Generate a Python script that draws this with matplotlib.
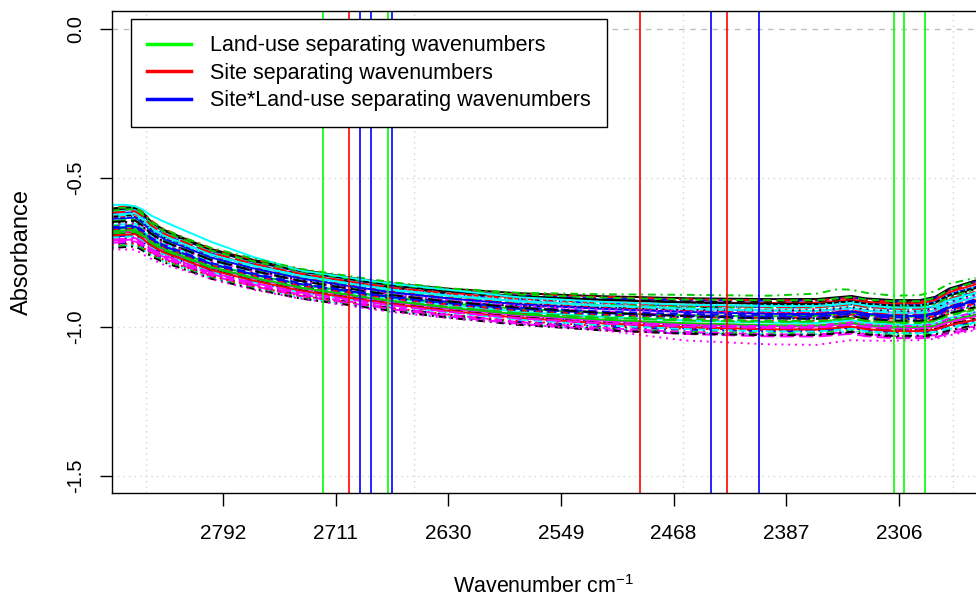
import matplotlib
matplotlib.use("Agg")
import numpy as np
import matplotlib.pyplot as plt
from matplotlib.lines import Line2D

plt.rcParams['font.family'] = ['Liberation Sans', 'DejaVu Sans']
plt.rcParams['mathtext.default'] = 'regular'

wavenumbers = [2872, 2862, 2855, 2850, 2844, 2835, 2820, 2800, 2770, 2736,
               2700, 2670, 2630, 2580, 2521, 2460, 2400, 2365, 2350, 2340,
               2330, 2310, 2291, 2280, 2270, 2251]
# middle of the bundle of spectra and its half width
band_centre = [-0.665, -0.662, -0.66, -0.675, -0.70, -0.725, -0.752, -0.787,
               -0.822, -0.855, -0.88, -0.90, -0.92, -0.94, -0.955, -0.965,
               -0.97, -0.97, -0.964, -0.96, -0.968, -0.974, -0.974,
               -0.967, -0.947, -0.925]
band_half = [0.07, 0.07, 0.07, 0.068, 0.062, 0.058, 0.055, 0.053, 0.052,
             0.052, 0.05, 0.05, 0.053, 0.058, 0.063, 0.066, 0.068, 0.068,
             0.068, 0.068, 0.068, 0.068, 0.068, 0.072, 0.08, 0.085]

# where each sample sits in the bundle (-1 bottom, 1 top), high and low wavenumber end
pos_left = [0.9, -0.3, 0.4, -0.8, 0.1, 0.6, -0.5, 0.2, -0.9, 0.7, 0.0, -0.2,
            0.5, -0.6, 0.3, 0.8, -0.4, 0.1, -0.7, 0.45, -0.1, 0.65, -0.95,
            0.25, -0.35, 0.55, 0.05, -0.55, 0.35, -0.75, 0.85, -0.15, 0.15,
            -0.45, 0.75, -0.25, 0.5, -0.85, 0.3, -0.05, 0.6, -0.65, 0.2, 0.95,
            -0.3, 0.4, -0.5, 0.1, -1.0, 0.7, -0.2, 0.0, 0.45, -0.7, 0.25,
            -0.4, 0.8, -0.1, 0.55, -0.6]
pos_right = [0.95, -0.1, 0.2, -0.6, 0.4, 0.3, 0.95, 0.5, -0.7, 0.9, -0.3, 0.1,
             0.6, -0.4, -0.1, 0.7, -0.6, 0.35, -0.9, 0.2, 0.15, 0.5, -0.75,
             0.0, -0.55, 0.8, -0.2, -0.35, 0.55, -0.95, 0.65, 0.05, -0.05,
             -0.65, 0.45, -0.45, 0.9, -0.5, 0.6, 0.1, 0.3, -0.85, 0.4, 0.85,
             -0.15, 0.15, -0.7, 0.35, -0.8, 0.5, -0.4, 0.2, 0.7, -0.3, -0.1,
             -0.6, 0.9, 0.0, 0.3, -0.45]

# a few samples that leave the bundle
cyan_sample = [-0.59, -0.59, -0.595, -0.605, -0.625, -0.645, -0.675, -0.715,
               -0.765, -0.81, -0.835, -0.855, -0.875, -0.9, -0.915, -0.925,
               -0.93, -0.93, -0.925, -0.92, -0.928, -0.935, -0.935, -0.93,
               -0.91, -0.885]
magenta_sample = [-0.74, -0.74, -0.74, -0.755, -0.77, -0.79, -0.81, -0.84,
                  -0.875, -0.905, -0.93, -0.95, -0.97, -0.99, -1.01, -1.045,
                  -1.058, -1.06, -1.05, -1.044, -1.046, -1.046, -1.044, -1.04,
                  -1.028, -1.01]
green_sample = [-0.60, -0.60, -0.60, -0.615, -0.645, -0.67, -0.70, -0.735,
                -0.77, -0.805, -0.83, -0.85, -0.87, -0.885, -0.89, -0.892,
                -0.895, -0.888, -0.873, -0.875, -0.885, -0.895, -0.893, -0.88,
                -0.855, -0.835]

landuse_wn = [2720.3, 2673.3, 2309.8, 2302.1, 2287.0]
site_wn = [2701.1, 2492.0, 2429.5]
interaction_wn = [2693.2, 2685.3, 2670.2, 2441.3, 2406.5]

xtick_wn = [2792, 2711, 2630, 2549, 2468, 2387, 2306]
ytick_vals = [0.0, -0.5, -1.0, -1.5]
grid_wn = [2847.5, 2654.6, 2461.2, 2267.3]

r_cols = ['black', '#FF0000', '#00CD00', '#0000FF', '#00FFFF', '#FF00FF']
r_ltys = ['-', (0, (4, 3)), (0, (1, 2.5)), (0, (1, 2.5, 4, 2.5)), (0, (7, 3))]

fig = plt.figure(figsize=(9.76, 6.01), dpi=100)
ax = fig.add_axes([112/976, 108/601, 864/976, 482/601])

wn = np.array(wavenumbers, dtype=float)
centre = np.array(band_centre)
half = np.array(band_half)
t = (wn[0] - wn) / (wn[0] - wn[-1])

for i, (pl, pr) in enumerate(zip(pos_left, pos_right)):
    y = centre + half * (pl * (1 - t) + pr * t)
    ax.plot(wn, y, color=r_cols[i % 6], linestyle=r_ltys[i % 5], lw=1.4)

ax.plot(wn, cyan_sample, color='#00FFFF', lw=1.4)
ax.plot(wn, magenta_sample, color='#FF00FF', linestyle=(0, (1, 2.5)), lw=1.4)
ax.plot(wn, green_sample, color='#00CD00', linestyle=(0, (1, 2.5, 4, 2.5)), lw=1.4)

# grid
for g in grid_wn:
    ax.axvline(g, color='#D3D3D3', lw=1, linestyle=(0, (1, 3)), zorder=0)
for v in ytick_vals[1:]:
    ax.axhline(v, color='#D3D3D3', lw=1, linestyle=(0, (1, 3)), zorder=0)
ax.axhline(0.0, color='#BEBEBE', lw=1, linestyle=(0, (4, 4)), zorder=0)

for w in landuse_wn:
    ax.axvline(w, color='#00FF00', lw=1.2)
for w in site_wn:
    ax.axvline(w, color='#FF0000', lw=1.2)
for w in interaction_wn:
    ax.axvline(w, color='#0000FF', lw=1.2)

ax.set_xlim(2871.7, 2250.6)
ax.set_ylim(-1.557, 0.0604)

ax.set_xticks(xtick_wn)
ax.set_xticklabels([str(x) for x in xtick_wn], fontsize=15)
ax.set_yticks(ytick_vals)
ax.set_yticklabels([f'{v:.1f}' for v in ytick_vals], rotation=90,
                   va='center', fontsize=14.5)
ax.tick_params(axis='x', length=9, width=1, pad=13)
ax.tick_params(axis='y', length=9, width=1, pad=10)
ax.spines['right'].set_visible(False)
for s in ['left', 'top', 'bottom']:
    ax.spines[s].set_linewidth(1)

fig.text(22/976, 1 - 252/601, 'Absorbance', rotation=90, va='center',
         ha='center', fontsize=17)
fig.text(544/976, 1 - 593/601, 'Wavenumber cm$^{-1}$', va='baseline',
         ha='center', fontsize=15.5)

handles = [Line2D([], [], color='#00FF00', lw=2.5),
           Line2D([], [], color='#FF0000', lw=2.5),
           Line2D([], [], color='#0000FF', lw=2.5)]
labels = ['Land-use separating wavenumbers', 'Site separating wavenumbers',
          'Site*Land-use separating wavenumbers']
leg = ax.legend(handles, labels, loc='upper left',
                bbox_to_anchor=(0.0216, 0.983), borderaxespad=0,
                fontsize=15.5, fancybox=False, framealpha=1,
                edgecolor='black', handlelength=2.05, handletextpad=0.9,
                borderpad=0.75, labelspacing=0.3)
leg.get_frame().set_linewidth(1)

fig.savefig('out.png', dpi=100)
